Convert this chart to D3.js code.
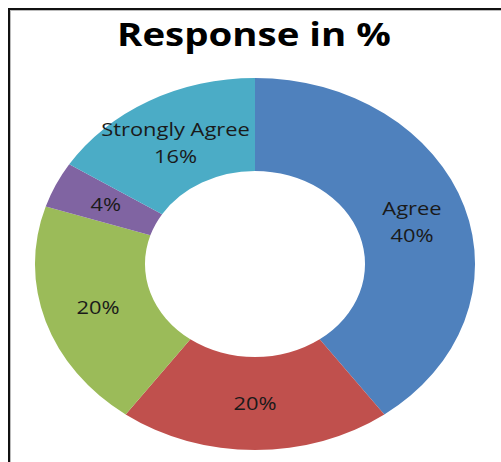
<!DOCTYPE html>
<html>
<head>
<meta charset="utf-8">
<script src="https://cdn.jsdelivr.net/npm/d3@7"></script>
<style>
  body { margin: 0; background: #fff; }
  svg { display: block; font-family: "Open Sans", sans-serif; }
</style>
</head>
<body>
<div id="chart"></div>
<script>
// Chart data
var categories = ["Agree", "Disagree", "Neutral", "Strongly Disagree", "Strongly Agree"];
var values = [40, 20, 20, 4, 16];
var showName = [true, false, false, false, true];
var colors = ["#4F81BD", "#C0504D", "#9BBB59", "#8064A2", "#4BACC6"];

var width = 501;
var height = 462;

var svg = d3.select("#chart")
  .append("svg")
  .attr("width", width)
  .attr("height", height);

// Outer frame (cut off at right and bottom)
svg.append("rect")
  .attr("x", 9)
  .attr("y", 9)
  .attr("width", 520)
  .attr("height", 480)
  .attr("fill", "none")
  .attr("stroke", "#111")
  .attr("stroke-width", 2);
svg.append("rect")
  .attr("x", 10.5)
  .attr("y", 10.5)
  .attr("width", 520)
  .attr("height", 480)
  .attr("fill", "none")
  .attr("stroke", "#bbb")
  .attr("stroke-width", 1);

// Whole picture is horizontally stretched
var sx = 1.183;
var cx = 255, cy = 264;
var radius = 186;

svg.append("g")
  .attr("transform", "translate(254,46) scale(" + sx + ",1)")
  .append("text")
  .attr("text-anchor", "middle")
  .attr("font-weight", "bold")
  .attr("font-size", 32.5)
  .attr("fill", "#000")
  .text("Response in %");

var data = categories.map(function(c, i) {
  return {name: c, value: values[i], showName: showName[i], color: colors[i]};
});

var pie = d3.pie()
  .sort(null)
  .value(d => d.value);

var arc = d3.arc()
  .innerRadius(radius * 0.5)
  .outerRadius(radius);

var g = svg.append("g")
  .attr("transform", "translate(" + cx + "," + cy + ") scale(" + sx + ",1)");

var arcs = pie(data);

g.selectAll("path")
  .data(arcs)
  .join("path")
  .attr("d", arc)
  .attr("fill", d => d.data.color);

var labels = g.selectAll("text")
  .data(arcs)
  .join("text")
  .attr("text-anchor", "middle")
  .attr("font-size", 18.5)
  .attr("fill", "#1a1a1a")
  .attr("transform", d => "translate(" + arc.centroid(d) + ")");

labels.each(function(d) {
  var t = d3.select(this);
  if (d.data.showName) {
    t.append("tspan").attr("x", 0).attr("dy", "-0.3em").text(d.data.name);
    t.append("tspan").attr("x", 0).attr("dy", "1.45em").text(d.data.value + "%");
  } else {
    t.append("tspan").attr("x", 0).attr("dy", "0.35em").text(d.data.value + "%");
  }
});
</script>
</body>
</html>
